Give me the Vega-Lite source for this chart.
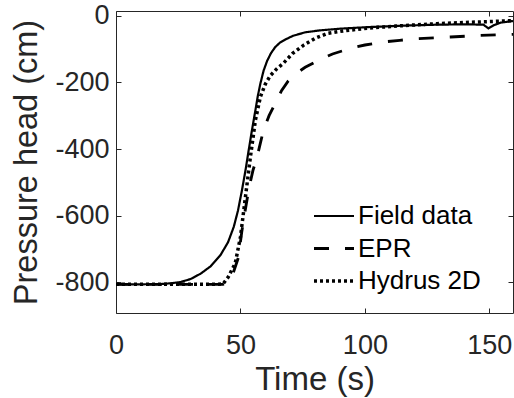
{
  "$schema": "https://vega.github.io/schema/vega-lite/v6.json",
  "autosize": {"type": "none"},
  "padding": {"left": 116, "top": 11, "right": 1, "bottom": 85},
  "width": 397,
  "height": 302,
  "background": "white",
  "config": {
    "font": "Liberation Sans",
    "view": {"stroke": null},
    "axis": {"grid": false, "domainColor": "#262626", "tickColor": "#262626", "labelColor": "#262626", "titleColor": "#262626", "labelFont": "Liberation Sans", "titleFont": "Liberation Sans", "titleFontWeight": "normal", "domainWidth": 1, "tickWidth": 1}
  },
  "data": {"values": [
    {"t": 0, "v": -806, "s": "Field data"},
    {"t": 10, "v": -806, "s": "Field data"},
    {"t": 18, "v": -805, "s": "Field data"},
    {"t": 22, "v": -803, "s": "Field data"},
    {"t": 26, "v": -799, "s": "Field data"},
    {"t": 30, "v": -790, "s": "Field data"},
    {"t": 34, "v": -774, "s": "Field data"},
    {"t": 38, "v": -752, "s": "Field data"},
    {"t": 42, "v": -718, "s": "Field data"},
    {"t": 45, "v": -680, "s": "Field data"},
    {"t": 47.3, "v": -634, "s": "Field data"},
    {"t": 49, "v": -585, "s": "Field data"},
    {"t": 50.6, "v": -524, "s": "Field data"},
    {"t": 52, "v": -465, "s": "Field data"},
    {"t": 53.3, "v": -404, "s": "Field data"},
    {"t": 54.7, "v": -340, "s": "Field data"},
    {"t": 56, "v": -284, "s": "Field data"},
    {"t": 57, "v": -240, "s": "Field data"},
    {"t": 58, "v": -204, "s": "Field data"},
    {"t": 59.3, "v": -165, "s": "Field data"},
    {"t": 60.7, "v": -136, "s": "Field data"},
    {"t": 62.3, "v": -112, "s": "Field data"},
    {"t": 64, "v": -94, "s": "Field data"},
    {"t": 66, "v": -80, "s": "Field data"},
    {"t": 68.7, "v": -69, "s": "Field data"},
    {"t": 71.3, "v": -60, "s": "Field data"},
    {"t": 76, "v": -50, "s": "Field data"},
    {"t": 82, "v": -44, "s": "Field data"},
    {"t": 90, "v": -39, "s": "Field data"},
    {"t": 102, "v": -34, "s": "Field data"},
    {"t": 115, "v": -30, "s": "Field data"},
    {"t": 129, "v": -27, "s": "Field data"},
    {"t": 140, "v": -26, "s": "Field data"},
    {"t": 147.6, "v": -27, "s": "Field data"},
    {"t": 149.6, "v": -38, "s": "Field data"},
    {"t": 152, "v": -28, "s": "Field data"},
    {"t": 154.5, "v": -21, "s": "Field data"},
    {"t": 159.5, "v": -16, "s": "Field data"},
    {"t": 0, "v": -806, "s": "EPR"},
    {"t": 20, "v": -806, "s": "EPR"},
    {"t": 43, "v": -806, "s": "EPR"},
    {"t": 45, "v": -800, "s": "EPR"},
    {"t": 46.5, "v": -785, "s": "EPR"},
    {"t": 49.2, "v": -725, "s": "EPR"},
    {"t": 50.5, "v": -650, "s": "EPR"},
    {"t": 52, "v": -580, "s": "EPR"},
    {"t": 53.5, "v": -515, "s": "EPR"},
    {"t": 55, "v": -465, "s": "EPR"},
    {"t": 56.8, "v": -420, "s": "EPR"},
    {"t": 59.2, "v": -345, "s": "EPR"},
    {"t": 61.5, "v": -300, "s": "EPR"},
    {"t": 64, "v": -263, "s": "EPR"},
    {"t": 66.5, "v": -225, "s": "EPR"},
    {"t": 69.2, "v": -196, "s": "EPR"},
    {"t": 72, "v": -175, "s": "EPR"},
    {"t": 76, "v": -155, "s": "EPR"},
    {"t": 81.3, "v": -134, "s": "EPR"},
    {"t": 87, "v": -115, "s": "EPR"},
    {"t": 94.2, "v": -98, "s": "EPR"},
    {"t": 100, "v": -88, "s": "EPR"},
    {"t": 107.4, "v": -79, "s": "EPR"},
    {"t": 114, "v": -74, "s": "EPR"},
    {"t": 121, "v": -69, "s": "EPR"},
    {"t": 134.4, "v": -64, "s": "EPR"},
    {"t": 146.4, "v": -59, "s": "EPR"},
    {"t": 159.5, "v": -56, "s": "EPR"},
    {"t": 0, "v": -806, "s": "Hydrus 2D"},
    {"t": 20, "v": -806, "s": "Hydrus 2D"},
    {"t": 40, "v": -806, "s": "Hydrus 2D"},
    {"t": 43, "v": -805, "s": "Hydrus 2D"},
    {"t": 45.1, "v": -784, "s": "Hydrus 2D"},
    {"t": 47.9, "v": -743, "s": "Hydrus 2D"},
    {"t": 50, "v": -664, "s": "Hydrus 2D"},
    {"t": 52, "v": -544, "s": "Hydrus 2D"},
    {"t": 54, "v": -424, "s": "Hydrus 2D"},
    {"t": 56, "v": -314, "s": "Hydrus 2D"},
    {"t": 58, "v": -244, "s": "Hydrus 2D"},
    {"t": 60, "v": -205, "s": "Hydrus 2D"},
    {"t": 62, "v": -180, "s": "Hydrus 2D"},
    {"t": 64.5, "v": -160, "s": "Hydrus 2D"},
    {"t": 67.2, "v": -143, "s": "Hydrus 2D"},
    {"t": 71, "v": -113, "s": "Hydrus 2D"},
    {"t": 75.3, "v": -89, "s": "Hydrus 2D"},
    {"t": 80, "v": -68, "s": "Hydrus 2D"},
    {"t": 85, "v": -53, "s": "Hydrus 2D"},
    {"t": 92, "v": -45, "s": "Hydrus 2D"},
    {"t": 102, "v": -37, "s": "Hydrus 2D"},
    {"t": 115, "v": -30, "s": "Hydrus 2D"},
    {"t": 129, "v": -24, "s": "Hydrus 2D"},
    {"t": 142, "v": -20, "s": "Hydrus 2D"},
    {"t": 155.7, "v": -16, "s": "Hydrus 2D"},
    {"t": 159.5, "v": -15, "s": "Hydrus 2D"}
  ]},
  "layer": [
    {
      "mark": {"type": "line", "color": "black", "strokeCap": "butt", "clip": true},
      "encoding": {
        "x": {"field": "t", "type": "quantitative", "scale": {"domain": [0, 159.5], "nice": false, "zero": false},
          "axis": {"title": "Time (s)", "values": [0, 50, 100, 150], "tickSize": -5, "labelFontSize": 27, "labelPadding": 24, "titleFontSize": 33, "titlePadding": 5, "labelFlush": false, "labelExpr": "'' + datum.value"}},
        "y": {"field": "v", "type": "quantitative", "scale": {"domain": [-892, 14], "nice": false, "zero": false},
          "axis": {"title": "Pressure head (cm)", "values": [-800, -600, -400, -200, 0], "tickSize": -5, "labelFontSize": 27, "labelPadding": 12, "titleFontSize": 32.5, "titlePadding": 11, "labelFlush": false, "labelExpr": "'' + datum.value"}},
        "strokeDash": {"field": "s", "type": "nominal",
          "scale": {"domain": ["Field data", "EPR", "Hydrus 2D"], "range": [[1, 0], [15, 16], [3, 3]]},
          "legend": {"title": null, "orient": "none", "legendX": 205, "legendY": 192, "symbolType": "M-2,0H2", "symbolSize": 400, "symbolStrokeColor": "black", "symbolStrokeWidth": 3, "labelFontSize": 26, "labelColor": "black", "labelFont": "Liberation Sans", "labelOffset": 11, "rowPadding": 6.5, "padding": 0}},
        "strokeWidth": {"field": "s", "type": "nominal",
          "scale": {"domain": ["Field data", "EPR", "Hydrus 2D"], "range": [2.2, 3.5, 3.5]},
          "legend": null}
      }
    },
    {
      "mark": {"type": "point", "opacity": 0},
      "encoding": {
        "x": {"field": "t", "type": "quantitative", "axis": {"orient": "top", "labels": false, "title": null, "values": [0, 50, 100, 150], "tickSize": -5}},
        "y": {"field": "v", "type": "quantitative", "axis": {"orient": "right", "labels": false, "title": null, "values": [-800, -600, -400, -200, 0], "tickSize": -5}}
      }
    }
  ],
  "resolve": {"axis": {"x": "independent", "y": "independent"}}
}
